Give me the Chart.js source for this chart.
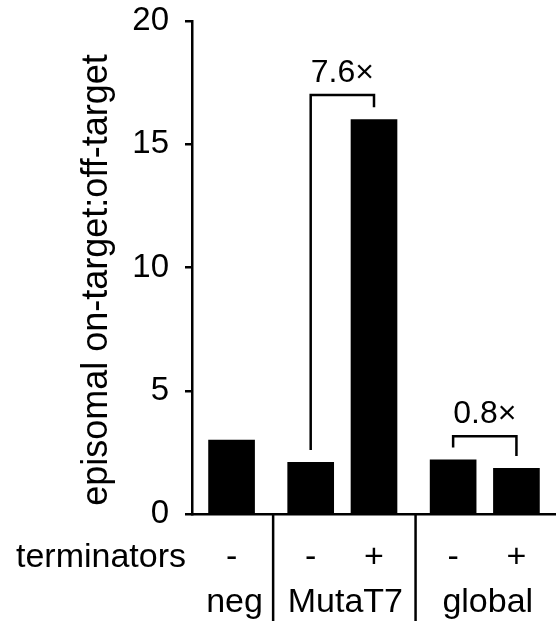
<!DOCTYPE html>
<html>
<head>
<meta charset="utf-8">
<script src="https://cdn.jsdelivr.net/npm/chart.js@4"></script>
<style>
  html, body { margin: 0; padding: 0; background: #fff; }
  #wrap { width: 556px; height: 626px; }
</style>
</head>
<body>
<div id="wrap"><canvas id="c" width="556" height="626"></canvas></div>
<script>
// Episomal on-target:off-target ratios, with and without terminators
const groups = ['neg', 'MutaT7', 'global'];
const barGroups = [0, 1, 1, 2, 2];
const terminators = ['-', '-', '+', '-', '+'];
const ratios = [3.0, 2.1, 16.0, 2.2, 1.85];
const yTicks = [0, 5, 10, 15, 20];
const yTitle = 'episomal on-target:off-target';

// fold-change brackets: which bars they join, bracket height, and text
const bracketPairs = [[1, 2], [3, 4]];
const bracketLevels = [17.0, 3.15];
const bracketLabels = ['7.6×', '0.8×'];

const FONT = "'Liberation Sans', Arial, Helvetica, sans-serif";
const INK = '#000';

// Lay the bars out on a fine category grid so bars inside a group sit
// closer together than bars in neighbouring groups.
const EDGE = 2, GAP = 3;
const slotLabels = [], slotValues = [], barSlot = [], groupBounds = [];
groups.forEach((g, gi) => {
  const start = slotLabels.length;
  const push = (label, v) => { slotLabels.push(label); slotValues.push(v); };
  for (let i = 0; i < EDGE; i++) push('', null);
  const members = barGroups.map((b, i) => (b === gi ? i : -1)).filter(i => i >= 0);
  members.forEach((bi, k) => {
    if (k > 0) for (let i = 0; i < GAP; i++) push('', null);
    barSlot[bi] = slotLabels.length;
    push(terminators[bi], ratios[bi]);
  });
  for (let i = 0; i < EDGE; i++) push('', null);
  groupBounds.push([start, slotLabels.length - 1]);
});

const annotate = {
  id: 'annotate',
  afterDraw(chart) {
    const { ctx, chartArea, scales: { x, y } } = chart;
    ctx.save();
    ctx.strokeStyle = INK;
    ctx.fillStyle = INK;
    ctx.lineWidth = 2.5;
    ctx.lineCap = 'butt';

    // y-axis title, rotated
    ctx.save();
    ctx.translate(97, 280);
    ctx.rotate(-Math.PI / 2);
    ctx.font = `36px ${FONT}`;
    ctx.textAlign = 'center';
    ctx.textBaseline = 'middle';
    ctx.fillText(yTitle, 0, 0);
    ctx.restore();

    // group dividers below the axis
    for (let gi = 0; gi < groupBounds.length - 1; gi++) {
      const xd = (x.getPixelForValue(groupBounds[gi][1]) + x.getPixelForValue(groupBounds[gi + 1][0])) / 2 + 2;
      ctx.beginPath();
      ctx.moveTo(xd, chartArea.bottom);
      ctx.lineTo(xd, chartArea.bottom + 107);
      ctx.stroke();
    }

    ctx.font = `34px ${FONT}`;
    ctx.textBaseline = 'alphabetic';

    // terminators row
    const row1 = chartArea.bottom + 53;
    ctx.textAlign = 'right';
    ctx.fillText('terminators', 186, row1);
    ctx.textAlign = 'center';
    terminators.forEach((t, i) => ctx.fillText(t, x.getPixelForValue(barSlot[i]), row1));

    // group names row
    const row2 = chartArea.bottom + 98;
    groups.forEach((g, gi) => {
      const xs = barGroups.map((b, i) => (b === gi ? x.getPixelForValue(barSlot[i]) : null)).filter(v => v !== null);
      const cx = xs.reduce((a, b) => a + b, 0) / xs.length;
      ctx.fillText(g, cx + 3, row2);
    });

    // fold-change brackets
    ctx.font = `32px ${FONT}`;
    bracketPairs.forEach(([a, b], k) => {
      const xa = x.getPixelForValue(barSlot[a]);
      const xb = x.getPixelForValue(barSlot[b]);
      const yt = y.getPixelForValue(bracketLevels[k]);
      const ya = y.getPixelForValue(ratios[a] + 0.5);
      const yb = y.getPixelForValue(ratios[b] + 0.5);
      ctx.beginPath();
      ctx.moveTo(xa, ya);
      ctx.lineTo(xa, yt);
      ctx.lineTo(xb, yt);
      ctx.lineTo(xb, yb);
      ctx.stroke();
      ctx.textAlign = 'center';
      ctx.fillText(bracketLabels[k], (xa + xb) / 2, yt - 13);
    });
    ctx.restore();
  }
};

new Chart(document.getElementById('c'), {
  type: 'bar',
  data: {
    labels: slotLabels,
    datasets: [{
      data: slotValues,
      backgroundColor: INK,
      borderWidth: 0,
      barThickness: 46
    }]
  },
  options: {
    responsive: false,
    animation: false,
    devicePixelRatio: 1,
    layout: { padding: { top: 21, bottom: 112, left: 0, right: 0 } },
    plugins: { legend: { display: false }, tooltip: { enabled: false } },
    scales: {
      x: {
        type: 'category',
        offset: true,
        grid: { display: false, drawTicks: false },
        border: { display: true, color: INK, width: 2.5 },
        ticks: { display: false },
        afterFit: s => { s.height = 0; }
      },
      y: {
        min: 0,
        max: 20,
        afterBuildTicks: s => { s.ticks = yTicks.map(v => ({ value: v })); },
        ticks: { color: INK, font: { family: FONT, size: 33 }, padding: 16 },
        grid: { display: true, drawOnChartArea: false, drawTicks: true, tickLength: 7, color: INK, lineWidth: 2.5 },
        border: { display: true, color: INK, width: 2.5 },
        afterFit: s => { s.width = 192; s.paddingTop = 0; s.paddingBottom = 0; }
      }
    }
  },
  plugins: [annotate]
});
</script>
</body>
</html>
